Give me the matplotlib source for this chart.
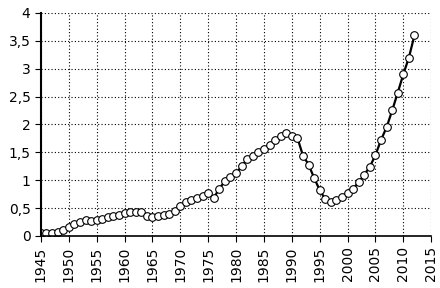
import numpy as np
import matplotlib
matplotlib.use("Agg")
import matplotlib.pyplot as plt
from matplotlib.ticker import FuncFormatter

# yearly values
years = list(range(1945, 2013))
values = [0.05, 0.05, 0.06, 0.07, 0.10, 0.16, 0.22, 0.25, 0.28, 0.27,
          0.28, 0.31, 0.34, 0.35, 0.38, 0.41, 0.42, 0.43, 0.42, 0.36,
          0.33, 0.35, 0.37, 0.40, 0.45, 0.53, 0.60, 0.65, 0.68, 0.72,
          0.77, 0.68, 0.85, 0.98, 1.06, 1.12, 1.25, 1.38, 1.44, 1.50,
          1.56, 1.63, 1.72, 1.80, 1.85, 1.80, 1.76, 1.44, 1.28, 1.04,
          0.82, 0.66, 0.60, 0.65, 0.70, 0.77, 0.85, 0.96, 1.10, 1.24,
          1.45, 1.72, 1.95, 2.25, 2.57, 2.90, 3.20, 3.60]

x_ticks = list(range(1945, 2016, 5))
y_ticks = [0, 0.5, 1, 1.5, 2, 2.5, 3, 3.5, 4]

fig = plt.figure(figsize=(4.4, 2.88), dpi=100)
ax = fig.add_axes([0.093, 0.181, 0.887, 0.774])

ax.plot(years, values, color="black", linewidth=1.6, marker="o",
        markersize=5.5, markerfacecolor="white", markeredgecolor="black",
        markeredgewidth=0.8)

ax.set_xlim(1945, 2015)
ax.set_ylim(0, 4)
ax.set_xticks(x_ticks)
ax.set_yticks(y_ticks)
ax.yaxis.set_major_formatter(FuncFormatter(lambda v, p: ("%g" % v).replace(".", ",")))
ax.tick_params(axis="x", labelrotation=90, labelsize=10, length=4, color="black")
ax.tick_params(axis="y", labelsize=10, length=4, color="black")

ax.grid(True, color="black", linestyle=(0, (1, 2)), linewidth=0.8)
ax.spines["top"].set_visible(False)
ax.spines["right"].set_visible(False)
ax.spines["left"].set_linewidth(1.5)
ax.spines["bottom"].set_linewidth(1.2)

fig.savefig("out.png", dpi=100)
